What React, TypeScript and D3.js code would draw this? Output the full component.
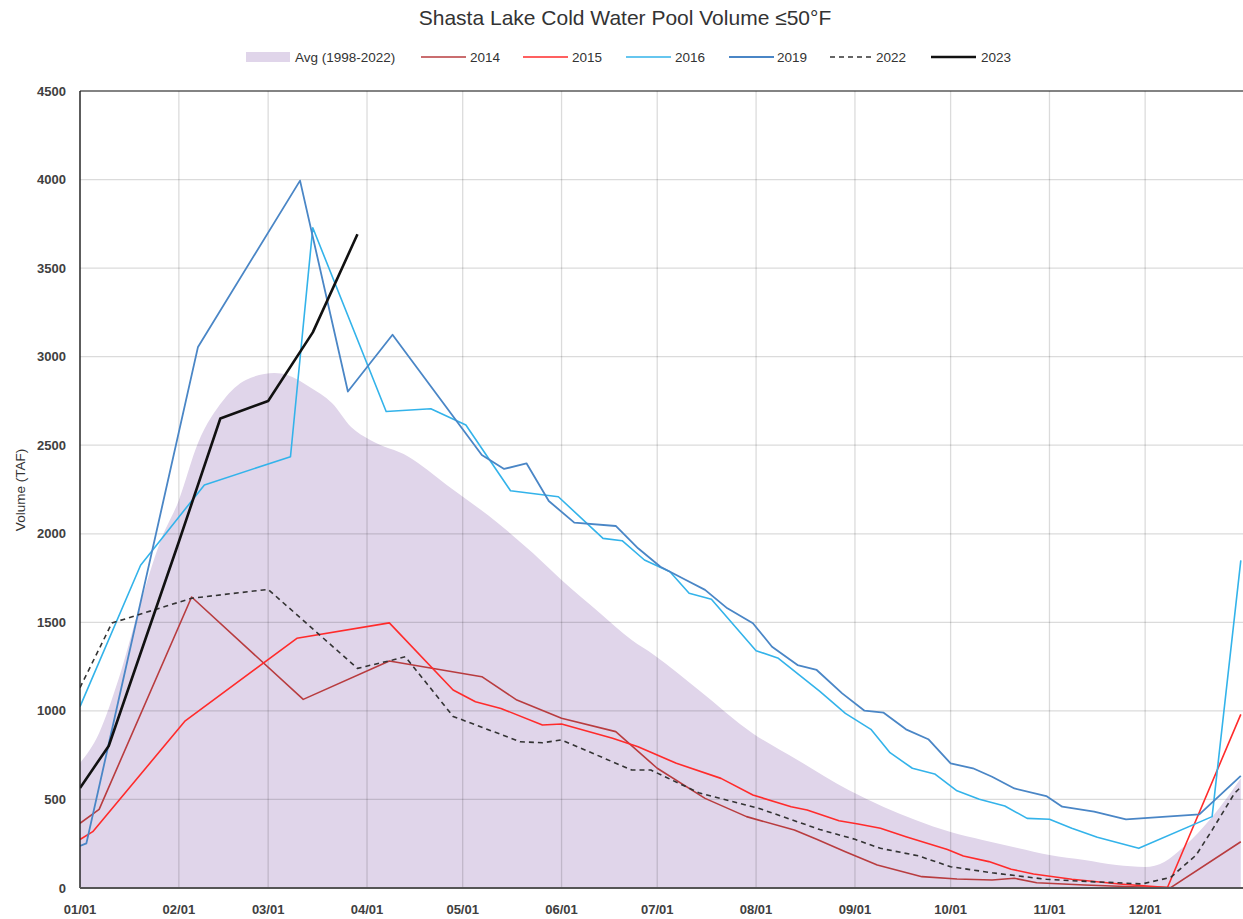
import React from 'react';
import * as d3 from 'd3';

// Avg (1998-2022) envelope
const avgDates = ['01-01', '01-07', '01-13', '01-20', '01-26', '02-01', '02-07', '02-15', '02-22', '03-03', '03-07', '03-14', '03-21', '03-27', '04-02', '04-14', '04-26', '05-12', '05-23', '06-01', '06-13', '06-23', '06-30', '07-14', '07-31', '08-14', '08-30', '09-10', '09-20', '10-01', '10-11', '10-22', '11-01', '11-12', '11-22', '12-01', '12-07', '12-13', '12-22', '12-31'];
const avgValues = [705, 875, 1174, 1609, 1948, 2190, 2512, 2756, 2868, 2908, 2897, 2829, 2738, 2603, 2529, 2435, 2276, 2061, 1891, 1739, 1553, 1400, 1316, 1118, 873, 723, 553, 457, 384, 316, 271, 226, 186, 158, 130, 119, 147, 231, 401, 620];

const dates2014 = ['01-01', '01-07', '02-05', '03-12', '04-08', '05-07', '05-18', '06-01', '06-18', '07-01', '07-16', '07-29', '08-13', '08-20', '08-29', '09-08', '09-22', '10-03', '10-14', '10-21', '10-28', '11-12', '11-27', '12-09', '12-31'];
const values2014 = [365, 444, 1643, 1065, 1282, 1193, 1061, 958, 883, 676, 506, 403, 327, 275, 205, 130, 64, 51, 45, 55, 30, 17, 7, 2, 261];

const dates2015 = ['01-01', '01-05', '02-03', '03-10', '04-08', '04-28', '05-05', '05-13', '05-26', '06-01', '06-17', '06-25', '07-07', '07-21', '07-31', '08-12', '08-17', '08-27', '09-02', '09-09', '09-17', '09-30', '10-05', '10-13', '10-20', '10-27', '11-08', '11-23', '12-08', '12-31'];
const values2015 = [274, 318, 944, 1410, 1497, 1118, 1052, 1014, 920, 926, 845, 797, 704, 619, 525, 459, 440, 380, 361, 337, 290, 218, 181, 149, 106, 79, 49, 23, 3, 980];

const dates2016 = ['01-01', '01-20', '02-09', '03-08', '03-15', '04-07', '04-21', '05-02', '05-16', '05-31', '06-14', '06-20', '06-27', '07-05', '07-11', '07-18', '08-01', '08-08', '08-21', '08-29', '09-06', '09-12', '09-19', '09-26', '10-03', '10-10', '10-18', '10-25', '11-01', '11-08', '11-16', '11-29', '12-22', '12-31'];
const values2016 = [1024, 1822, 2276, 2435, 3728, 2690, 2706, 2614, 2243, 2209, 1974, 1961, 1852, 1786, 1664, 1630, 1340, 1297, 1110, 986, 896, 764, 676, 644, 549, 501, 463, 393, 388, 337, 286, 224, 403, 1850];

const dates2019 = ['01-01', '01-03', '02-07', '03-11', '03-26', '04-09', '05-07', '05-14', '05-21', '05-28', '06-05', '06-18', '06-25', '07-02', '07-10', '07-16', '07-23', '07-31', '08-06', '08-14', '08-20', '08-28', '09-04', '09-10', '09-17', '09-24', '10-01', '10-08', '10-14', '10-21', '10-31', '11-05', '11-15', '11-25', '12-18', '12-31'];
const values2019 = [237, 252, 3055, 3994, 2803, 3124, 2445, 2366, 2398, 2185, 2063, 2044, 1918, 1814, 1739, 1683, 1579, 1495, 1362, 1259, 1231, 1099, 1001, 990, 896, 840, 704, 676, 628, 562, 519, 459, 431, 388, 416, 633];

const dates2022 = ['01-01', '01-11', '01-19', '02-05', '03-01', '03-29', '04-09', '04-13', '04-28', '05-19', '05-26', '06-01', '06-23', '06-29', '07-14', '08-02', '08-21', '09-01', '09-09', '09-21', '10-01', '10-14', '10-31', '11-14', '11-30', '12-09', '12-17', '12-22', '12-29', '12-31'];
const values2022 = [1131, 1496, 1541, 1636, 1686, 1240, 1287, 1306, 969, 826, 820, 836, 666, 666, 538, 449, 330, 275, 224, 181, 120, 86, 49, 36, 23, 60, 186, 327, 534, 570];

const dates2023 = ['01-01', '01-10', '02-01', '02-14', '03-01', '03-15', '03-29'];
const values2023 = [565, 802, 1955, 2651, 2750, 3137, 3691];

const yTicks = [0, 500, 1000, 1500, 2000, 2500, 3000, 3500, 4000, 4500];

const W = 1243;
const H = 919;
const M = { left: 80, top: 91, right: 1244, bottom: 888 };
const FONT = '"Liberation Sans", Arial, sans-serif';

const parse = d3.utcParse('%Y-%m-%d');
const toDate = (md: string) => parse(`1900-${md}`) as Date;

const x = d3.scaleUtc()
  .domain([Date.UTC(1900, 0, 1), Date.UTC(1901, 0, 1)])
  .range([M.left, M.right]);
const y = d3.scaleLinear().domain([0, 4500]).range([M.bottom, M.top]);

type Pt = { d: Date; v: number };
const zip = (ds: string[], vs: number[]): Pt[] => ds.map((d, i) => ({ d: toDate(d), v: vs[i] }));

const series = [
  { name: '2014', pts: zip(dates2014, values2014), color: '#b83c3f', width: 1.6, dash: '' },
  { name: '2015', pts: zip(dates2015, values2015), color: '#ff2b2b', width: 1.6, dash: '' },
  { name: '2016', pts: zip(dates2016, values2016), color: '#33b3ea', width: 1.6, dash: '' },
  { name: '2019', pts: zip(dates2019, values2019), color: '#4a86c6', width: 1.8, dash: '' },
  { name: '2022', pts: zip(dates2022, values2022), color: '#333333', width: 1.6, dash: '5,4' },
  { name: '2023', pts: zip(dates2023, values2023), color: '#111111', width: 2.6, dash: '' },
];

const line = d3.line<Pt>().x(p => x(p.d)).y(p => y(p.v));
const area = d3.area<Pt>().x(p => x(p.d)).y0(y(0)).y1(p => y(p.v)).curve(d3.curveMonotoneX);

const legendPos = [
  { x: 246, tx: 295 },
  { x: 421, tx: 470 },
  { x: 523, tx: 572 },
  { x: 626, tx: 675 },
  { x: 729, tx: 777 },
  { x: 830, tx: 876 },
  { x: 931, tx: 981 },
];

export default function App() {
  const months = d3.utcMonth.range(new Date(Date.UTC(1900, 0, 1)), new Date(Date.UTC(1901, 0, 1)));
  const fmt = d3.utcFormat('%m/%d');
  const avgPts = zip(avgDates, avgValues);

  return (
    <svg width={W} height={H} style={{ position: 'absolute', left: 0, top: 0, background: '#fff' }} fontFamily={FONT}>
      <defs>
        <clipPath id="plot">
          <rect x={M.left} y={M.top - 2} width={M.right - M.left} height={M.bottom - M.top + 2} />
        </clipPath>
      </defs>

      <text x={625} y={25} textAnchor="middle" fontSize={21} fill="#333">
        Shasta Lake Cold Water Pool Volume ≤50°F
      </text>

      {/* legend */}
      <g fontSize={13.5} fill="#333">
        <rect x={legendPos[0].x} y={52} width={44} height={10} fill="#e0d5ea" />
        <text x={legendPos[0].tx} y={61.5}>Avg (1998-2022)</text>
        {series.map((s, i) => (
          <g key={s.name}>
            <line x1={legendPos[i + 1].x} x2={legendPos[i + 1].x + 45} y1={57} y2={57}
              stroke={s.color} strokeWidth={s.width} strokeDasharray={s.dash || undefined} />
            <text x={legendPos[i + 1].tx} y={61.5}>{s.name}</text>
          </g>
        ))}
      </g>

      {/* average area */}
      <path d={area(avgPts) || ''} fill="#e0d5ea" clipPath="url(#plot)" />

      {/* grid */}
      <g stroke="rgba(0,0,0,0.14)" strokeWidth={1.3}>
        {yTicks.map(t => (
          <line key={t} x1={M.left} x2={M.right} y1={y(t)} y2={y(t)} />
        ))}
        {months.map(m => (
          <line key={+m} x1={x(m)} x2={x(m)} y1={M.top} y2={M.bottom} />
        ))}
      </g>

      {/* series */}
      <g clipPath="url(#plot)" fill="none" strokeLinejoin="round">
        {series.map(s => (
          <path key={s.name} d={line(s.pts) || ''} stroke={s.color} strokeWidth={s.width}
            strokeDasharray={s.dash || undefined} />
        ))}
      </g>

      {/* frame */}
      <line x1={M.left} x2={M.right} y1={M.top} y2={M.top} stroke="#222" strokeWidth={1.2} />
      <line x1={M.left} x2={M.left} y1={M.top} y2={M.bottom} stroke="#222" strokeWidth={1.4} />
      <line x1={M.left} x2={M.right} y1={M.bottom} y2={M.bottom} stroke="#555" strokeWidth={2} />

      {/* y axis labels */}
      <g fontSize={13} fontWeight="bold" fill="#404040" textAnchor="end">
        {yTicks.map(t => (
          <text key={t} x={66} y={y(t) + 4.5}>{t}</text>
        ))}
      </g>
      <text transform="translate(25,490) rotate(-90)" textAnchor="middle" fontSize={13.5} fill="#333">
        Volume (TAF)
      </text>

      {/* x axis labels */}
      <g fontSize={13} fontWeight="bold" fill="#404040" textAnchor="middle">
        {months.map(m => (
          <text key={+m} x={x(m)} y={914}>{fmt(m)}</text>
        ))}
      </g>
    </svg>
  );
}
